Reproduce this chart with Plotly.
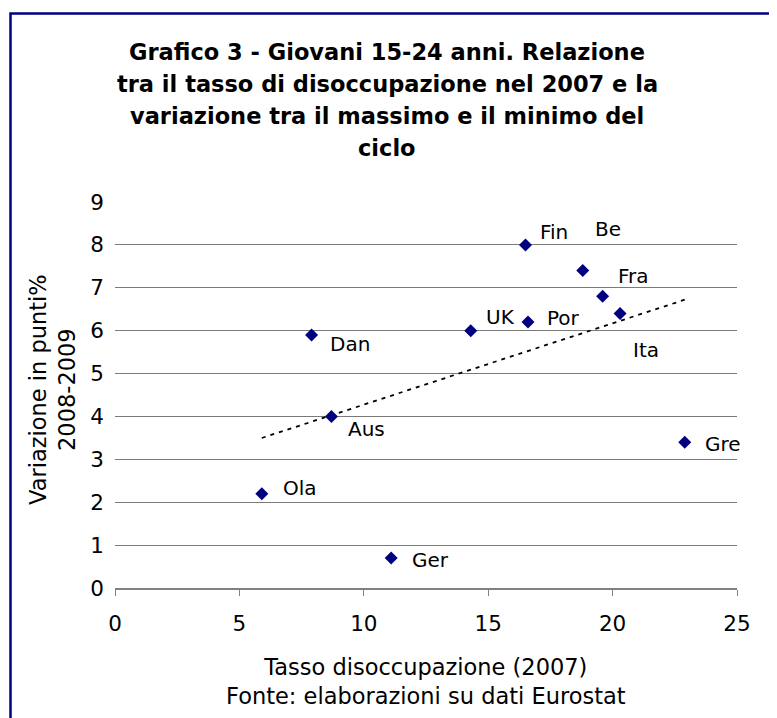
import numpy as np
import plotly.graph_objects as go

# ---- data ----
countries = ["Fin", "Be", "Fra", "Ita", "UK", "Por", "Gre", "Dan", "Aus", "Ola", "Ger"]
disocc_2007 = [16.5, 18.8, 19.6, 20.3, 14.3, 16.6, 22.9, 7.9, 8.7, 5.9, 11.1]
variazione = [8.0, 7.4, 6.8, 6.4, 6.0, 6.2, 3.4, 5.9, 4.0, 2.2, 0.7]
x_ticks = [0, 5, 10, 15, 20, 25]
y_ticks = [0, 1, 2, 3, 4, 5, 6, 7, 8, 9]

title_lines = [
    "Grafico 3 - Giovani 15-24 anni. Relazione",
    "tra il tasso di disoccupazione nel 2007 e la",
    "variazione tra il massimo e il minimo del",
    "ciclo",
]
x_title = "Tasso disoccupazione (2007)<br>Fonte: elaborazioni su dati Eurostat"
y_title = "Variazione in punti%<br>2008-2009"

# ---- styles / label placement (pixel offsets) ----
label_shift = {
    "Fin": (28, 13), "Be": (25, 42), "Fra": (31, 20), "Ita": (26, -36),
    "UK": (30, 14), "Por": (35, 4), "Gre": (38, -2), "Dan": (38, -9),
    "Aus": (35, -13), "Ola": (38, 6), "Ger": (39, -2),
}
FONT = "DejaVu Sans"
OFF = 8  # page body margin
W, H = 769, 710
ML, MR, MT, MB = 107, 40, 194, 130
PW, PH = W - ML - MR, H - MT - MB


def px(xp):
    return (xp - OFF - ML) / PW


def py(yp):
    return (H - MB - (yp - OFF)) / PH


# trendline (least squares over the data)
xs = np.array(disocc_2007)
ys = np.array(variazione)
slope, intercept = np.polyfit(xs, ys, 1)
tx = [xs.min(), xs.max()]
ty = [slope * v + intercept for v in tx]

fig = go.Figure()
fig.add_trace(go.Scatter(
    x=tx, y=ty, mode="lines",
    line=dict(color="black", width=1.8, dash="4px,5px"),
    hoverinfo="skip", showlegend=False,
))
fig.add_trace(go.Scatter(
    x=disocc_2007, y=variazione, mode="markers",
    marker=dict(symbol="diamond", size=10, color="#000080"),
    showlegend=False,
))

annotations = []
for c, xv, yv in zip(countries, disocc_2007, variazione):
    dx, dy = label_shift[c]
    annotations.append(dict(
        x=xv, y=yv, xref="x", yref="y", text=c, showarrow=False,
        xshift=dx, yshift=dy, font=dict(family=FONT, size=20, color="black"),
    ))

title_y = [52, 84, 116, 148]
for line, ty_px in zip(title_lines, title_y):
    annotations.append(dict(
        x=px(387), y=py(ty_px), xref="paper", yref="paper", text="<b>" + line + "</b>",
        showarrow=False, xanchor="center", yanchor="middle",
        font=dict(family=FONT, size=22.5, color="black"),
    ))

annotations.append(dict(
    x=px(426), y=py(681), xref="paper", yref="paper", text=x_title,
    showarrow=False, xanchor="center", yanchor="middle",
    font=dict(family=FONT, size=22.5, color="black"),
))
annotations.append(dict(
    x=px(52), y=py(390), xref="paper", yref="paper", text=y_title,
    showarrow=False, xanchor="center", yanchor="middle", textangle=-90,
    font=dict(family=FONT, size=22.5, color="black"),
))

fig.update_layout(
    width=W, height=H,
    margin=dict(l=ML, r=MR, t=MT, b=MB),
    paper_bgcolor="white", plot_bgcolor="white",
    font=dict(family=FONT, size=21.5, color="black"),
    annotations=annotations,
    shapes=[dict(
        type="rect", xref="paper", yref="paper",
        x0=px(10.5), x1=px(800), y0=py(760), y1=py(13.5),
        line=dict(color="#000080", width=2.5), layer="below",
    )],
    xaxis=dict(
        range=[0, 25], tickvals=x_ticks, showgrid=False, zeroline=False,
        showline=True, linecolor="#808080", linewidth=2,
        ticks="outside", ticklen=6, tickcolor="#808080", tickwidth=1,
        ticklabelstandoff=9, tickfont=dict(family=FONT, size=21.5),
    ),
    yaxis=dict(
        range=[0, 9], tickvals=y_ticks, showgrid=True, gridcolor="#7a7a7a",
        gridwidth=1, zeroline=False, showline=False, ticks="",
        ticklabelstandoff=10, tickfont=dict(family=FONT, size=21.5),
    ),
)

fig.write_html("out.html")
